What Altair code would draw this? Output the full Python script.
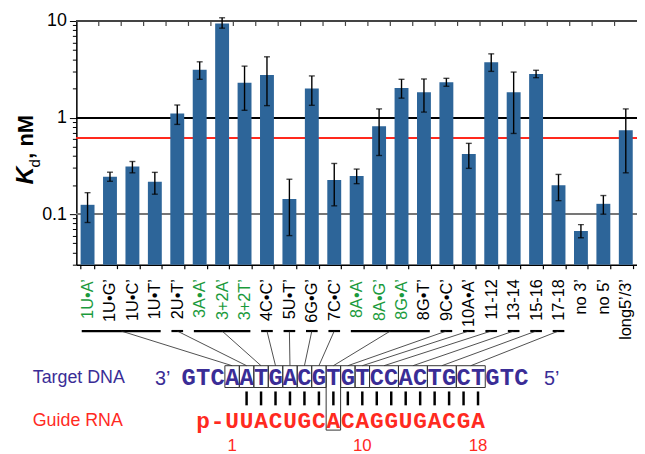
import json
import altair as alt
import pandas as pd

# ---------------- data ----------------
labels = ["1U•A’", "1U•G’", "1U•C’", "1U•T’", "2U•T’", "3A•A’", "3+2A’", "3+2T’",
          "4C•C’", "5U•T’", "6G•G’", "7C•C’", "8A•A’", "8A•G’", "8G•A’", "8G•T’",
          "9C•C’", "10A•A’", "11-12", "13-14", "15-16", "17-18", "no 3’", "no 5’", "long5’/3’"]
kd = [0.125, 0.244, 0.312, 0.216, 1.10, 3.13, 9.42, 2.29, 2.76, 0.144, 2.00, 0.226,
      0.248, 0.815, 2.03, 1.83, 2.32, 0.42, 3.75, 1.83, 2.83, 0.199, 0.067, 0.128, 0.741]
kd_low = [0.082, 0.219, 0.268, 0.161, 0.85, 2.49, 8.43, 1.19, 1.33, 0.060, 1.34, 0.122,
          0.207, 0.405, 1.59, 1.14, 2.11, 0.298, 3.01, 0.685, 2.59, 0.138, 0.057, 0.100, 0.268]
kd_high = [0.167, 0.272, 0.351, 0.271, 1.35, 3.78, 10.8, 3.41, 4.26, 0.230, 2.70, 0.335,
           0.293, 1.23, 2.49, 2.51, 2.55, 0.541, 4.57, 2.96, 3.09, 0.258, 0.078, 0.156, 1.23]
green_labels = ["1U•A’", "3A•A’", "3+2A’", "3+2T’", "8A•A’", "8A•G’", "8G•A’"]
line_black = 1.0
line_gray = 0.1
line_red = 0.62

dna_5flank = "GTC"
dna_core = "AATGACGTGTCCACTGCT"
dna_3flank = "GTC"
rna_prefix = "p-"
rna_core = "UUACUGCACAGGUGACGA"
rna_numbers = [1, 10, 18]
paired_nt = list(range(2, 19))
group_bars = [[0, 3], [4, 4], [5, 7], [8, 8], [9, 9], [10, 10], [11, 11], [12, 15],
              [16, 16], [17, 17], [18, 18], [19, 19], [20, 20], [21, 21]]
group_nt = [[1, 1], [2, 2], [3, 3], [4, 4], [5, 5], [6, 6], [7, 7], [8, 8],
            [9, 9], [10, 10], [11, 12], [13, 14], [15, 16], [17, 18]]
tall_box_nt = 8

# ---------------- layout ----------------
W, H = 566, 246
N = len(labels)
NT1 = 6.946      # position of nucleotide 1 in bar units
NT_STEP = 0.645  # one nucleotide in bar units
SEG_HALF = 0.26
SEG_Y, BOX_TOP, BOX_BOT, TALL_BOT = 313, 348, 370, 413
DNA_Y, PAIR_Y1, PAIR_Y2, RNA_Y, NUM_Y = 360, 374, 388, 404, 429

BAR = "#2d6599"
GREEN = "#1b9a3c"
DNA_C = "#3a2d96"
RED = "#ff2a1f"
SANS = "Liberation Sans"
MONO = "Liberation Mono"

def nt(k):
    return NT1 + NT_STEP * (k - 1)

df = pd.DataFrame({"label": labels, "kd": kd, "lo": kd_low, "hi": kd_high})

ticks = [round(m * 10 ** e, 3) for e in (-2, -1, 0) for m in range(1, 10) if m * 10 ** e >= 0.03 - 1e-9] + [10]
major = "(datum.value == 0.1 || datum.value == 1 || datum.value == 10)"

yscale = alt.Scale(type="log", domain=[0.03, 10], nice=False)
xband = alt.X("label:N", sort=labels,
              scale=alt.Scale(paddingInner=0.38, paddingOuter=0.19),
              axis=alt.Axis(title=None, labelAngle=-90, labelFontSize=16.5, labelFont=SANS,
                            labelPadding=10, tickSize=4, tickBand="extent", tickColor="black",
                            domainColor="black", domainWidth=1.5, tickWidth=1.2,
                            labelColor={"condition": {"test": "indexof(" + json.dumps(green_labels, ensure_ascii=False) + ", datum.value) >= 0",
                                                      "value": GREEN}, "value": "black"}))

base = alt.Chart(df)

rules = alt.layer(
    alt.Chart(df).mark_rule(color="#777777", strokeWidth=1.5).encode(y=alt.datum(line_gray, scale=yscale)),
    alt.Chart(df).mark_rule(color="black", strokeWidth=1.2).encode(y=alt.datum(line_black)),
    alt.Chart(df).mark_rule(color=RED, strokeWidth=1.2).encode(y=alt.datum(line_red)),
    alt.Chart(df).mark_rule(color="#444444", strokeWidth=2).encode(y=alt.datum(10)),
)

bars = base.mark_bar(color=BAR).encode(
    x=xband,
    y=alt.Y("kd:Q", scale=yscale,
            axis=alt.Axis(title=None, values=ticks, labelExpr=major + " ? toString(datum.value) : ''",
                          labelFontSize=18, labelFont=SANS, labelColor="black", labelPadding=3,
                          tickSize={"condition": {"test": major, "value": 7}, "value": 4},
                          tickColor="black", domainColor="black", domainWidth=1.5, grid=False)),
    y2=alt.datum(0.03),
)
err = base.mark_rule(color="black", strokeWidth=1.4).encode(
    x=alt.X("label:N", sort=labels), y="lo:Q", y2="hi:Q")
cap_lo = base.mark_tick(color="black", size=6, thickness=1.4).encode(
    x=alt.X("label:N", sort=labels), y="lo:Q")
cap_hi = base.mark_tick(color="black", size=6, thickness=1.4).encode(
    x=alt.X("label:N", sort=labels), y="hi:Q")

title_k = alt.Chart(df.head(1)).mark_text(text="K", angle=270, align="left", baseline="alphabetic",
                                          font=SANS, fontSize=25, fontStyle="italic", fontWeight="bold").encode(
    x=alt.value(-44), y=alt.value(165))
title_d = alt.Chart(df.head(1)).mark_text(text="d", angle=270, align="left", baseline="alphabetic",
                                          font=SANS, fontSize=15).encode(
    x=alt.value(-37), y=alt.value(148))
title_n = alt.Chart(df.head(1)).mark_text(text=", nM", angle=270, align="left", baseline="alphabetic",
                                          font=SANS, fontSize=22, fontWeight="bold").encode(
    x=alt.value(-44), y=alt.value(139))

main = alt.layer(rules, bars, err, cap_lo, cap_hi, title_k, title_d, title_n)

# ---------------- diagram ----------------
xs = alt.Scale(domain=[0, N], nice=False, zero=False)

top_ticks = pd.DataFrame({"u": list(range(1, N))})
seg_df = pd.DataFrame({"a": [g[0] + 0.5 - SEG_HALF for g in group_bars],
                       "b": [g[1] + 0.5 + SEG_HALF for g in group_bars],
                       "mid": [(g[0] + g[1]) / 2 + 0.5 for g in group_bars],
                       "tgt": [(nt(n[0]) + nt(n[1])) / 2 for n in group_nt],
                       "bx1": [nt(n[0]) - NT_STEP / 2 for n in group_nt],
                       "bx2": [nt(n[1]) + NT_STEP / 2 for n in group_nt],
                       "tall": [n[0] == tall_box_nt for n in group_nt]})
dna_seq = dna_5flank + dna_core + dna_3flank
dna_df = pd.DataFrame({"c": list(dna_seq),
                       "u": [nt(k) for k in range(1 - len(dna_5flank), len(dna_core) + len(dna_3flank) + 1)]})
rna_seq = rna_prefix + rna_core
rna_df = pd.DataFrame({"c": list(rna_seq),
                       "u": [nt(k) for k in range(1 - len(rna_prefix), len(rna_core) + 1)]})
pair_df = pd.DataFrame({"u": [nt(k) for k in paired_nt]})
num_df = pd.DataFrame({"c": [str(v) for v in rna_numbers], "u": [nt(v) for v in rna_numbers]})
end_df = pd.DataFrame({"c": ["3’", "5’"],
                       "u": [nt(1 - len(dna_5flank)) - 1.8 * NT_STEP, nt(len(dna_core) + len(dna_3flank)) + 2.1 * NT_STEP]})
name_df = pd.DataFrame({"c": ["Target DNA", "Guide RNA"], "yy": ["dna", "rna"]})

X = lambda f: alt.X(f, scale=xs, axis=None)

d_top = alt.Chart(top_ticks).mark_rule(color="#444444", strokeWidth=1.2).encode(
    x=X("u:Q"), y=alt.value(0), y2=alt.value(5))
d_seg = alt.Chart(seg_df).mark_rule(color="black", strokeWidth=2.2).encode(
    x=X("a:Q"), x2="b:Q", y=alt.value(SEG_Y))
d_conn = alt.Chart(seg_df).mark_rule(color="#222222", strokeWidth=0.8).encode(
    x=X("mid:Q"), x2="tgt:Q", y=alt.value(SEG_Y), y2=alt.value(BOX_TOP))
d_box = alt.Chart(seg_df).transform_filter("!datum.tall").mark_rect(
    fillOpacity=0, stroke="#333333", strokeWidth=1).encode(
    x=X("bx1:Q"), x2="bx2:Q", y=alt.value(BOX_TOP), y2=alt.value(BOX_BOT))
d_tall = alt.Chart(seg_df).transform_filter("datum.tall").mark_rect(
    fillOpacity=0, stroke="#333333", strokeWidth=1).encode(
    x=X("bx1:Q"), x2="bx2:Q", y=alt.value(BOX_TOP), y2=alt.value(TALL_BOT))
d_dna = alt.Chart(dna_df).mark_text(font=MONO, fontWeight="bold", fontSize=24, color=DNA_C,
                                    baseline="middle").encode(x=X("u:Q"), y=alt.value(DNA_Y), text="c:N")
d_rna = alt.Chart(rna_df).mark_text(font=MONO, fontWeight="bold", fontSize=23, color=RED,
                                    baseline="middle").encode(x=X("u:Q"), y=alt.value(RNA_Y), text="c:N")
d_pair = alt.Chart(pair_df).mark_rule(color="black", strokeWidth=2.5).encode(
    x=X("u:Q"), y=alt.value(PAIR_Y1), y2=alt.value(PAIR_Y2))
d_num = alt.Chart(num_df).mark_text(font=SANS, fontSize=17, color=RED, baseline="middle").encode(
    x=X("u:Q"), y=alt.value(NUM_Y), text="c:N")
d_end = alt.Chart(end_df).mark_text(font=SANS, fontSize=20, color=DNA_C, baseline="middle").encode(
    x=X("u:Q"), y=alt.value(DNA_Y + 1), text="c:N")
d_name_dna = alt.Chart(name_df).transform_filter("datum.yy == 'dna'").mark_text(
    font=SANS, fontSize=18, align="left", baseline="middle", color=DNA_C).encode(
    x=alt.value(-44), y=alt.value(DNA_Y), text="c:N")
d_name_rna = alt.Chart(name_df).transform_filter("datum.yy == 'rna'").mark_text(
    font=SANS, fontSize=18, align="left", baseline="middle", color=RED).encode(
    x=alt.value(-44), y=alt.value(RNA_Y), text="c:N")

diagram = alt.layer(d_top, d_seg, d_conn, d_box, d_tall, d_pair, d_dna, d_rna, d_num, d_end,
                    d_name_dna, d_name_rna)

chart = alt.layer(main, diagram).resolve_scale(x="independent").properties(
    width=W, height=H,
    autosize=alt.AutoSizeParams(type="none"),
    padding={"left": 69, "top": 11, "right": 0, "bottom": 189},
).configure_view(stroke=None).configure(background="white")

chart.save("out.html", embed_options={"renderer": "svg", "actions": False})
